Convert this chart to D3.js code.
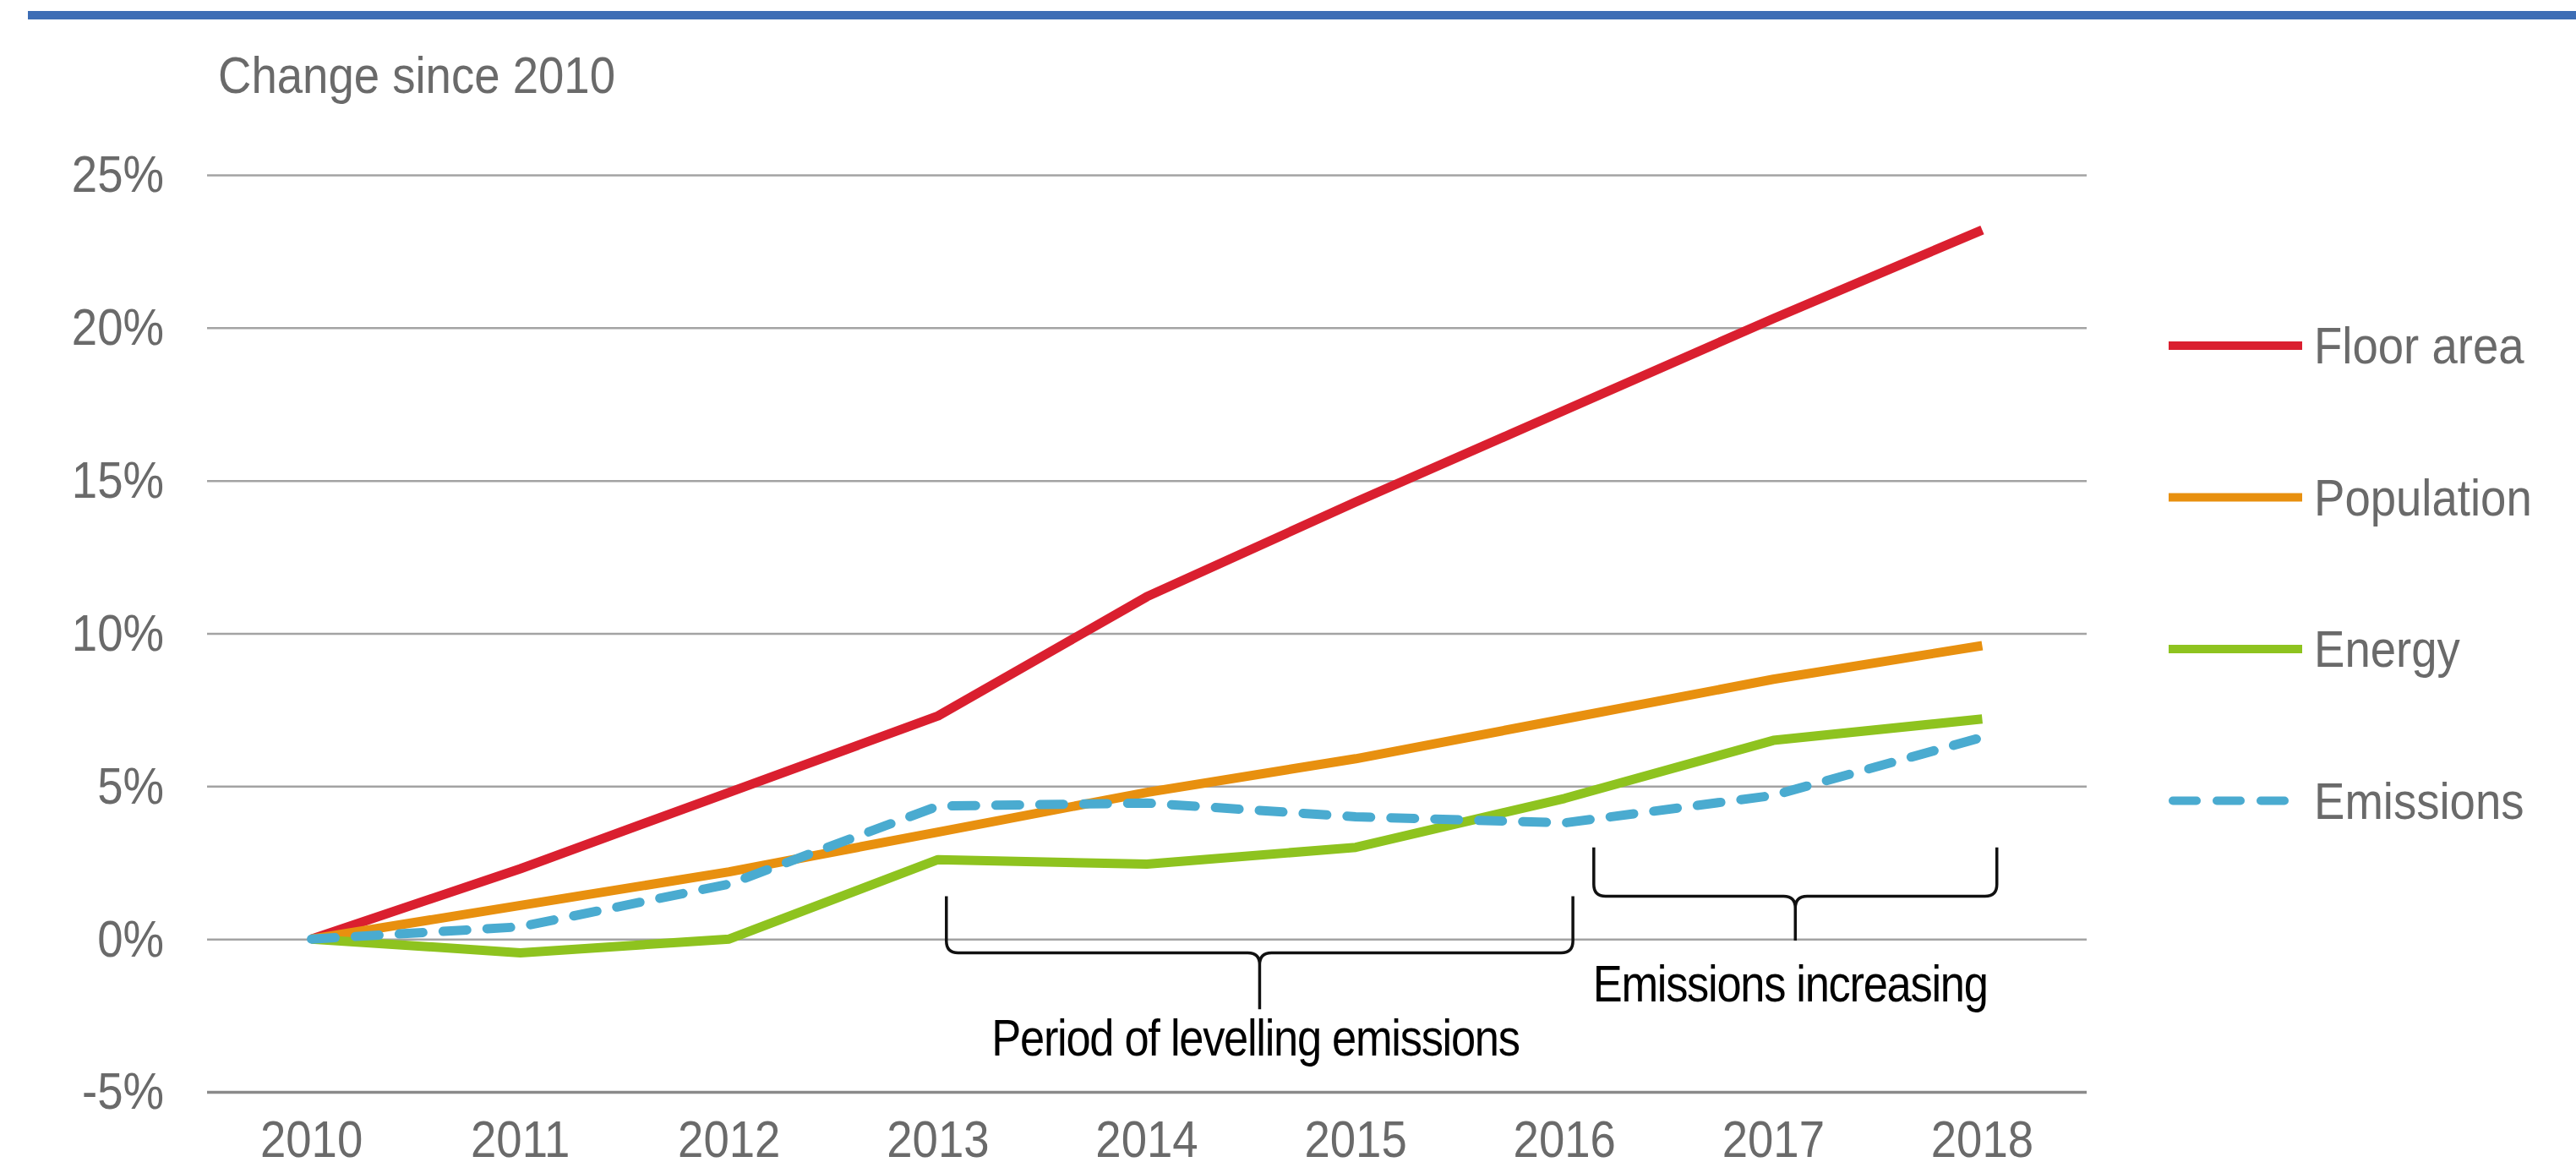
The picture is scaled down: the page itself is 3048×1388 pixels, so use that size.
<!DOCTYPE html>
<html>
<head>
<meta charset="utf-8">
<script src="https://cdn.jsdelivr.net/npm/d3@7"></script>
<style>
  html, body { margin: 0; padding: 0; background: #ffffff; }
  svg { display: block; }
  text { font-family: "Liberation Sans", Arial, sans-serif; }
</style>
</head>
<body>
<svg id="chart" width="3048" height="1388"></svg>
<script>
// Years on the x axis
const years = [2010, 2011, 2012, 2013, 2014, 2015, 2016, 2017, 2018];

// Change since 2010, in percent
const floorArea  = [0, 2.3, 4.8, 7.3, 11.2, 14.3, 17.3, 20.3, 23.2];
const population = [0, 1.1, 2.2, 3.5, 4.8, 5.9, 7.2, 8.5, 9.6];
const energy     = [0, -0.45, 0.0, 2.6, 2.45, 3.0, 4.6, 6.5, 7.2];
const emissions  = [0, 0.4, 1.8, 4.35, 4.45, 4.0, 3.8, 4.7, 6.6];

const seriesNames = ["Floor area", "Population", "Energy", "Emissions"];
const yTicks = [-5, 0, 5, 10, 15, 20, 25];

// Bracketed periods: [start year, end year, side top %, bar %, tip %]
const braceSpans = [
  [2013.04, 2016.04, 1.4, -0.45, -2.3],
  [2016.14, 2018.07, 3.0, 1.4, -0.05]
];
const braceLabels = ["Period of levelling emissions", "Emissions increasing"];
// Label anchor: [year, value %]
const braceLabelPos = [[2014.52, -3.8], [2017.08, -2.05]];

const series = [
  { name: seriesNames[0], values: floorArea,  color: "#da1f2f", dash: null },
  { name: seriesNames[1], values: population, color: "#e8900f", dash: null },
  { name: seriesNames[2], values: energy,     color: "#8ec31f", dash: null },
  { name: seriesNames[3], values: emissions,  color: "#4aabd0", dash: "28,24" }
];

const svg = d3.select("#chart");
const plotLeft = 245, plotRight = 2469, plotTop = 207, plotBottom = 1292;
const squeeze = "scale(0.88,1)";

// Top rule
svg.append("rect")
  .attr("x", 33).attr("y", 13).attr("width", 3048 - 33).attr("height", 10)
  .attr("fill", "#3d6db5");

const x = d3.scaleBand().domain(years).range([plotLeft, plotRight]).paddingInner(0).paddingOuter(0);
const xc = d => x(d) + x.bandwidth() / 2;
const xYear = d3.scaleLinear().domain([years[0], years[years.length - 1]])
  .range([xc(years[0]), xc(years[years.length - 1])]);
const y = d3.scaleLinear().domain([-5, 25]).range([plotBottom, plotTop]);

// Gridlines and y labels
const yAxis = svg.append("g")
  .attr("transform", `translate(${plotLeft},0)`)
  .call(d3.axisLeft(y).tickValues(yTicks).tickSize(-(plotRight - plotLeft))
    .tickPadding(58).tickFormat(d => `${d}%`));
yAxis.select(".domain").remove();
yAxis.selectAll(".tick line")
  .attr("stroke", d => d === -5 ? "#8a8a8a" : "#a3a3a3")
  .attr("stroke-width", d => d === -5 ? 3.5 : 2.5);
yAxis.selectAll(".tick text")
  .attr("font-size", 62).attr("fill", "#6a6a6a")
  .attr("font-family", "Liberation Sans, Arial, sans-serif")
  .attr("transform", squeeze);

// Year labels
const xAxis = svg.append("g")
  .attr("transform", `translate(0,${plotBottom})`)
  .call(d3.axisBottom(x).tickSize(0).tickPadding(33));
xAxis.select(".domain").remove();
xAxis.selectAll(".tick text")
  .attr("font-size", 62).attr("fill", "#6a6a6a")
  .attr("font-family", "Liberation Sans, Arial, sans-serif")
  .attr("transform", squeeze);

// Axis title
svg.append("text")
  .attr("transform", `translate(258,110) ${squeeze}`)
  .attr("font-size", 62).attr("fill", "#6a6a6a")
  .text("Change since 2010");

// Series lines
const line = d3.line().x((d, i) => xc(years[i])).y(d => y(d));
svg.append("g").selectAll("path")
  .data(series)
  .join("path")
  .attr("d", s => line(s.values))
  .attr("fill", "none")
  .attr("stroke", s => s.color)
  .attr("stroke-width", 11)
  .attr("stroke-linejoin", "round")
  .attr("stroke-linecap", s => s.dash ? "round" : "butt")
  .attr("stroke-dasharray", s => s.dash);

// Braces
function bracePath(b) {
  const x0 = xYear(b[0]), x1 = xYear(b[1]);
  const yt = y(b[2]), yb = y(b[3]), ytip = y(b[4]);
  const m = (x0 + x1) / 2, r = 14;
  return `M${x0},${yt} L${x0},${yb - r} Q${x0},${yb} ${x0 + r},${yb} L${m - r},${yb} ` +
         `Q${m},${yb} ${m},${yb + r} L${m},${ytip} M${m},${yb + r} Q${m},${yb} ${m + r},${yb} ` +
         `L${x1 - r},${yb} Q${x1},${yb} ${x1},${yb - r} L${x1},${yt}`;
}
svg.append("g").selectAll("path")
  .data(braceSpans)
  .join("path")
  .attr("d", bracePath)
  .attr("fill", "none")
  .attr("stroke", "#111111")
  .attr("stroke-width", 3.5);

svg.append("g").selectAll("text")
  .data(braceLabels)
  .join("text")
  .attr("transform", (d, i) => `translate(${xYear(braceLabelPos[i][0])},${y(braceLabelPos[i][1])}) scale(0.86,1)`)
  .attr("text-anchor", "middle")
  .attr("font-size", 61)
  .attr("letter-spacing", -1.5)
  .attr("fill", "#000000")
  .text(d => d);

// Legend
const legendTop = 409, legendGap = 179.5, legendX0 = 2566, legendX1 = 2724;
const legend = svg.append("g").selectAll("g")
  .data(series)
  .join("g")
  .attr("transform", (d, i) => `translate(0,${legendTop + i * legendGap})`);
legend.append("line")
  .attr("x1", s => s.dash ? legendX0 + 5 : legendX0)
  .attr("x2", legendX1)
  .attr("stroke", s => s.color)
  .attr("stroke-width", 10)
  .attr("stroke-linecap", s => s.dash ? "round" : "butt")
  .attr("stroke-dasharray", s => s.dash);
legend.append("text")
  .attr("transform", `translate(2738,21) ${squeeze}`)
  .attr("font-size", 62)
  .attr("fill", "#6a6a6a")
  .text(s => s.name);
</script>
</body>
</html>
